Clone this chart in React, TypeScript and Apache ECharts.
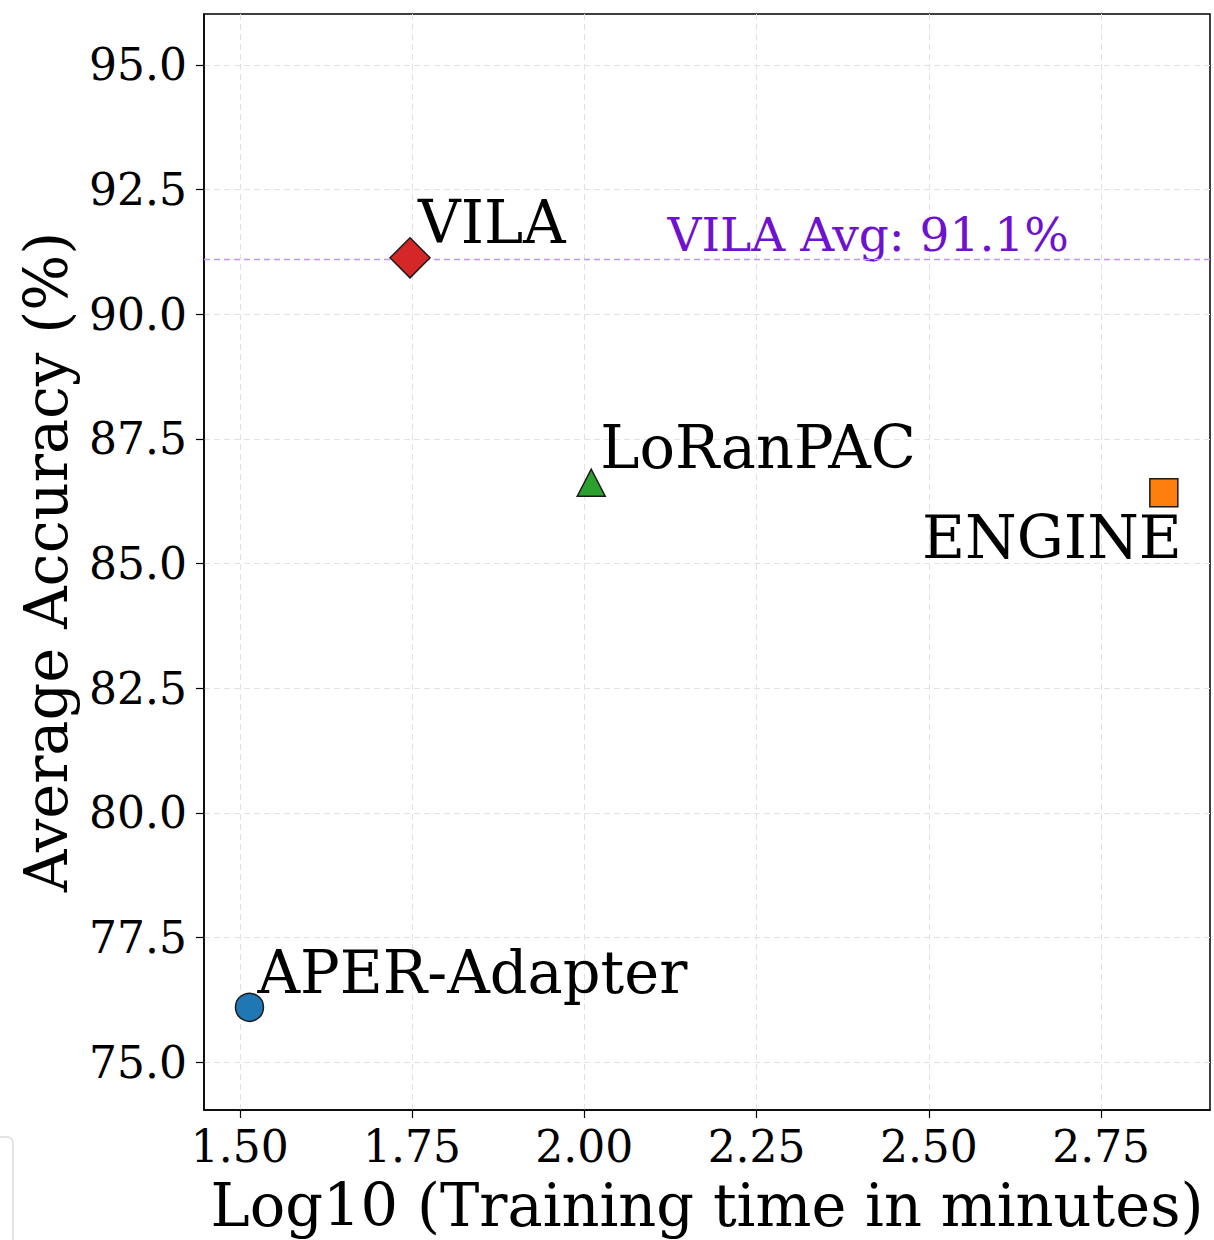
import React, { useEffect, useRef } from "react";
import * as echarts from "echarts";

const methods = ["APER-Adapter", "VILA", "LoRanPAC", "ENGINE"];
const logTime = [1.514, 1.747, 2.01, 2.841];
const accuracy = [76.1, 91.13, 86.62, 86.42];
const colors = ["#1f77b4", "#d62728", "#2ca02c", "#ff7f0e"];
const symbols = ["circle", "diamond", "triangle", "rect"];
const symbolSizes: any[] = [28, 40, [28, 27], 28];
const xTicks = [1.5, 1.75, 2.0, 2.25, 2.5, 2.75];
const yTicks = [75, 77.5, 80, 82.5, 85, 87.5, 90, 92.5, 95];
const vilaAvg = 91.1;
const avgLabelX = 2.412;

const FONT = "DejaVu Serif";

export default function App() {
  const ref = useRef<HTMLDivElement>(null);
  useEffect(() => {
    document.body.style.margin = "0";
    const chart = echarts.init(ref.current!, null, { renderer: "svg" });
    const labelCfg = [
      { align: "left", offset: [8, -35] },
      { align: "left", offset: [8, -35] },
      { align: "left", offset: [9, -35] },
      { align: "right", offset: [18, 45] },
    ];
    const pointSeries = methods.map((m, i) => ({
      type: "scatter",
      name: m,
      data: [[logTime[i], accuracy[i]]],
      symbol: symbols[i],
      symbolSize: symbolSizes[i],
      itemStyle: { color: colors[i], borderColor: "#1a1a1a", borderWidth: 1.5, opacity: 1 },
      label: {
        show: true,
        formatter: m,
        position: "inside",
        align: labelCfg[i].align,
        verticalAlign: "middle",
        offset: labelCfg[i].offset,
        fontFamily: FONT,
        fontSize: 59,
        color: "#000",
      },
      z: 5,
    }));
    chart.setOption({
      animation: false,
      grid: {
        left: 204,
        right: 4,
        top: 14,
        bottom: 130,
        outerBoundsMode: "none",
        containLabel: false,
        show: true,
        borderColor: "#000",
        borderWidth: 1.5,
        backgroundColor: "#fff",
      },
      xAxis: {
        type: "value",
        min: 1.448,
        max: 2.908,
        name: "Log10 (Training time in minutes)",
        nameLocation: "middle",
        nameGap: 66,
        nameTextStyle: { fontFamily: FONT, fontSize: 59, color: "#000" },
        axisLine: { show: true, onZero: false, lineStyle: { color: "#000", width: 1.5 } },
        axisTick: { show: true, length: 8, lineStyle: { color: "#000", width: 1.2 }, customValues: xTicks },
        axisLabel: {
          customValues: xTicks,
          formatter: (v: number) => v.toFixed(2),
          fontFamily: FONT,
          fontSize: 44,
          color: "#000",
          margin: 14,
        },
        splitLine: { show: true, lineStyle: { color: "#e2e2e2", type: [6, 4], width: 1 } },
      },
      yAxis: {
        type: "value",
        min: 74.04,
        max: 96.02,
        name: "Average Accuracy (%)",
        nameLocation: "middle",
        nameGap: 128,
        nameTextStyle: { fontFamily: FONT, fontSize: 59, color: "#000" },
        axisLine: { show: true, onZero: false, lineStyle: { color: "#000", width: 1.5 } },
        axisTick: { show: true, length: 8, lineStyle: { color: "#000", width: 1.2 }, customValues: yTicks },
        axisLabel: {
          customValues: yTicks,
          formatter: (v: number) => v.toFixed(1),
          fontFamily: FONT,
          fontSize: 44,
          color: "#000",
          margin: 17,
        },
        splitLine: { show: true, lineStyle: { color: "#e2e2e2", type: [6, 4], width: 1 } },
      },
      graphic: [
        {
          type: "rect",
          shape: { x: -12, y: 1137, width: 25, height: 130, r: 6 },
          style: { fill: "none", stroke: "#e3e3e3", lineWidth: 2 },
        },
      ],
      series: [
        {
          type: "scatter",
          name: "avg",
          data: [[avgLabelX, vilaAvg]],
          symbol: "circle",
          symbolSize: 1,
          itemStyle: { color: "rgba(0,0,0,0)", opacity: 1 },
          label: {
            show: true,
            formatter: "VILA Avg: " + vilaAvg.toFixed(1) + "%",
            position: "inside",
            align: "center",
            verticalAlign: "middle",
            offset: [0, -25],
            fontFamily: FONT,
            fontSize: 47,
            color: "#6e12cf",
          },
          markLine: {
            silent: true,
            symbol: "none",
            label: { show: false },
            lineStyle: { color: "#c394f0", type: [6, 4], width: 1.3, opacity: 1 },
            data: [{ yAxis: vilaAvg }],
          },
          z: 3,
        },
        ...pointSeries,
      ],
    });
    return () => chart.dispose();
  }, []);
  return <div ref={ref} style={{ width: 1214, height: 1240 }} />;
}
